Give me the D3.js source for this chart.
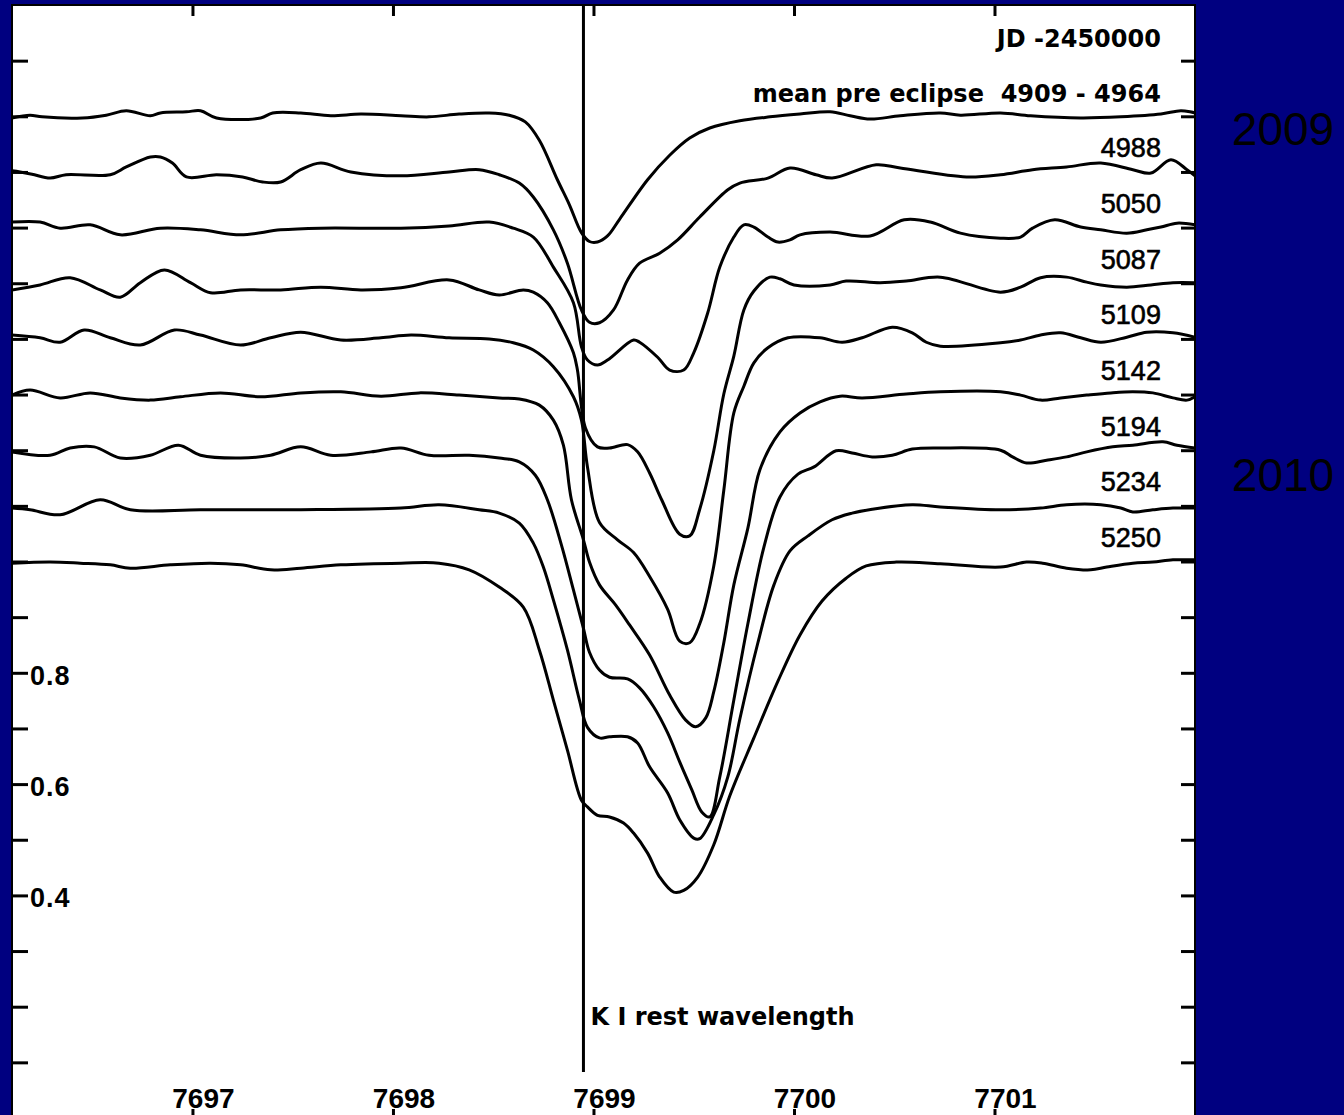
<!DOCTYPE html>
<html>
<head>
<meta charset="utf-8">
<script src="https://cdn.jsdelivr.net/npm/d3@7"></script>
<style>
  body { margin: 0; background: #000080; }
  svg { display: block; }
</style>
</head>
<body>
<script>
const width = 1344;
const height = 1115;

// wavelength axis (Angstrom) and flux axis ticks
const wavelengthTicks = [7697, 7698, 7699, 7700, 7701];
const fluxTicks = [0.1, 0.2, 0.3, 0.4, 0.5, 0.6, 0.7, 0.8, 0.9, 1.0, 1.1, 1.2, 1.3, 1.4, 1.5, 1.6, 1.7, 1.8, 1.9];
const fluxLabels = [0.4, 0.6, 0.8];
const restWavelength = 7698.95;   // K I line

// spectra, top to bottom: label, vertical offset, [wavelength, normalised flux]
const seriesLabels = ["mean pre eclipse  4909 - 4964", "4988", "5050", "5087", "5109", "5142", "5194", "5234", "5250"];
const offsets = [0.8, 0.7, 0.6, 0.5, 0.4, 0.3, 0.2, 0.1, 0.0];

const sMean = [[7696.10,0.997],[7696.19,1.002],[7696.25,0.999],[7696.45,0.997],[7696.57,1.002],[7696.67,1.010],[7696.79,1.001],[7696.84,1.006],[7696.97,1.008],[7697.04,1.010],[7697.12,0.997],[7697.34,0.997],[7697.40,1.006],[7697.54,1.006],[7697.69,1.001],[7697.84,1.004],[7698.04,1.001],[7698.18,0.999],[7698.33,1.004],[7698.48,1.006],[7698.58,1.002],[7698.66,0.990],[7698.73,0.957],[7698.82,0.886],[7698.88,0.841],[7698.94,0.791],[7698.98,0.775],[7699.02,0.774],[7699.07,0.785],[7699.13,0.815],[7699.27,0.886],[7699.38,0.930],[7699.48,0.961],[7699.58,0.979],[7699.73,0.992],[7699.88,0.999],[7700.03,1.004],[7700.18,1.008],[7700.28,1.001],[7700.38,0.995],[7700.53,1.001],[7700.73,1.006],[7700.83,1.002],[7701.03,1.006],[7701.18,1.001],[7701.43,0.997],[7701.63,0.999],[7701.83,1.004],[7701.93,1.010],[7702.00,1.006]];

const s4988 = [[7696.10,1.002],[7696.14,1.000],[7696.20,0.996],[7696.29,0.989],[7696.37,0.995],[7696.59,0.995],[7696.67,1.009],[7696.79,1.027],[7696.84,1.027],[7696.90,1.016],[7696.97,0.991],[7697.12,0.995],[7697.25,0.991],[7697.35,0.982],[7697.44,0.982],[7697.54,1.004],[7697.64,1.016],[7697.79,1.000],[7698.04,0.993],[7698.28,1.000],[7698.43,1.004],[7698.53,0.995],[7698.63,0.980],[7698.70,0.955],[7698.80,0.896],[7698.87,0.836],[7698.94,0.752],[7698.98,0.730],[7699.03,0.729],[7699.10,0.752],[7699.17,0.806],[7699.23,0.836],[7699.33,0.854],[7699.42,0.878],[7699.53,0.919],[7699.67,0.968],[7699.73,0.980],[7699.87,0.989],[7699.98,1.007],[7700.11,0.995],[7700.19,0.989],[7700.41,1.013],[7700.53,1.007],[7700.86,0.991],[7701.03,0.995],[7701.19,1.004],[7701.36,1.009],[7701.53,1.016],[7701.69,1.004],[7701.78,0.998],[7701.88,1.022],[7701.96,1.004],[7702.00,0.993]];

const s5050 = [[7696.10,1.010],[7696.24,1.010],[7696.34,0.999],[7696.49,1.005],[7696.64,0.987],[7696.84,0.999],[7697.04,0.996],[7697.24,0.987],[7697.44,0.996],[7697.64,0.999],[7698.04,0.999],[7698.28,1.003],[7698.48,1.010],[7698.60,0.999],[7698.70,0.983],[7698.80,0.929],[7698.90,0.865],[7698.94,0.786],[7698.97,0.762],[7699.02,0.753],[7699.07,0.762],[7699.20,0.798],[7699.23,0.794],[7699.32,0.767],[7699.38,0.744],[7699.45,0.744],[7699.50,0.775],[7699.57,0.847],[7699.63,0.929],[7699.70,0.983],[7699.75,1.005],[7699.80,1.001],[7699.87,0.983],[7699.92,0.974],[7699.98,0.978],[7700.03,0.987],[7700.18,0.992],[7700.38,0.985],[7700.55,1.014],[7700.68,1.010],[7700.83,0.990],[7701.03,0.981],[7701.13,0.983],[7701.19,0.999],[7701.30,1.014],[7701.43,1.001],[7701.53,0.996],[7701.66,0.990],[7701.76,0.996],[7701.83,1.001],[7701.91,1.008],[7702.00,1.005]];

const s5087 = [[7696.10,0.988],[7696.24,0.997],[7696.39,1.010],[7696.54,0.988],[7696.64,0.975],[7696.74,1.001],[7696.86,1.024],[7696.99,1.001],[7697.09,0.983],[7697.24,0.988],[7697.44,0.988],[7697.64,0.993],[7697.84,0.988],[7698.04,0.992],[7698.28,1.006],[7698.43,0.988],[7698.53,0.979],[7698.65,0.988],[7698.70,0.984],[7698.77,0.965],[7698.83,0.929],[7698.90,0.875],[7698.92,0.844],[7698.96,0.740],[7699.02,0.706],[7699.08,0.704],[7699.17,0.710],[7699.22,0.697],[7699.28,0.659],[7699.34,0.611],[7699.43,0.549],[7699.48,0.546],[7699.53,0.594],[7699.60,0.699],[7699.65,0.801],[7699.70,0.869],[7699.75,0.952],[7699.80,0.986],[7699.88,1.011],[7699.93,1.008],[7700.00,0.997],[7700.18,0.997],[7700.26,1.004],[7700.43,1.001],[7700.56,1.004],[7700.73,1.011],[7701.03,0.984],[7701.13,0.993],[7701.23,1.010],[7701.36,1.011],[7701.46,1.002],[7701.53,0.997],[7701.66,0.993],[7701.78,0.997],[7701.89,1.001],[7702.00,1.001]];

const s5109 = [[7696.10,1.007],[7696.24,1.002],[7696.34,0.994],[7696.46,1.016],[7696.59,1.002],[7696.74,0.989],[7696.91,1.016],[7697.04,1.007],[7697.24,0.989],[7697.39,1.002],[7697.54,1.012],[7697.74,0.998],[7697.94,1.002],[7698.09,1.007],[7698.28,1.002],[7698.48,1.000],[7698.60,0.993],[7698.70,0.980],[7698.80,0.950],[7698.90,0.896],[7698.94,0.854],[7698.97,0.770],[7699.03,0.670],[7699.12,0.639],[7699.20,0.616],[7699.28,0.573],[7699.37,0.514],[7699.43,0.457],[7699.48,0.454],[7699.53,0.488],[7699.60,0.592],[7699.65,0.728],[7699.70,0.867],[7699.75,0.915],[7699.80,0.957],[7699.87,0.984],[7699.97,1.002],[7700.13,1.002],[7700.24,0.994],[7700.34,1.002],[7700.49,1.021],[7700.59,1.011],[7700.66,0.994],[7700.73,0.987],[7701.03,0.993],[7701.13,0.998],[7701.23,1.007],[7701.33,1.011],[7701.43,1.002],[7701.53,0.994],[7701.66,1.003],[7701.76,1.012],[7701.89,1.011],[7702.00,1.003]];

const s5142 = [[7696.10,0.999],[7696.19,1.008],[7696.34,0.994],[7696.49,1.003],[7696.64,0.994],[7696.79,0.990],[7696.94,0.996],[7697.14,1.003],[7697.34,0.996],[7697.54,1.003],[7697.74,1.005],[7697.94,0.997],[7698.13,1.003],[7698.33,0.999],[7698.53,0.994],[7698.63,0.992],[7698.73,0.981],[7698.80,0.954],[7698.85,0.909],[7698.89,0.811],[7698.95,0.739],[7698.98,0.699],[7699.03,0.658],[7699.11,0.622],[7699.18,0.586],[7699.28,0.532],[7699.38,0.460],[7699.46,0.415],[7699.51,0.403],[7699.56,0.419],[7699.60,0.466],[7699.65,0.554],[7699.70,0.658],[7699.77,0.760],[7699.83,0.865],[7699.93,0.933],[7700.03,0.967],[7700.13,0.987],[7700.23,0.997],[7700.34,0.994],[7700.56,1.001],[7700.73,1.005],[7701.03,1.005],[7701.13,0.999],[7701.23,0.990],[7701.33,0.994],[7701.46,0.999],[7701.58,1.003],[7701.69,1.005],[7701.79,1.003],[7701.89,0.994],[7701.96,0.990],[7702.00,0.996]];

const s5194 = [[7696.10,0.997],[7696.29,0.991],[7696.39,1.004],[7696.51,1.006],[7696.64,0.986],[7696.79,0.991],[7696.93,1.009],[7697.04,0.991],[7697.24,0.986],[7697.39,0.991],[7697.54,1.006],[7697.69,0.991],[7697.89,0.997],[7698.04,1.004],[7698.18,0.991],[7698.38,0.991],[7698.53,0.986],[7698.63,0.979],[7698.71,0.955],[7698.77,0.911],[7698.84,0.830],[7698.90,0.749],[7698.95,0.680],[7698.98,0.637],[7699.03,0.605],[7699.08,0.592],[7699.17,0.589],[7699.23,0.573],[7699.30,0.539],[7699.37,0.492],[7699.43,0.440],[7699.49,0.390],[7699.54,0.350],[7699.58,0.341],[7699.63,0.413],[7699.70,0.551],[7699.77,0.688],[7699.85,0.826],[7699.93,0.916],[7700.02,0.957],[7700.10,0.970],[7700.21,0.999],[7700.29,0.995],[7700.39,0.988],[7700.49,0.991],[7700.59,1.002],[7700.73,1.004],[7701.03,1.000],[7701.09,0.988],[7701.16,0.977],[7701.26,0.982],[7701.36,0.988],[7701.46,0.997],[7701.59,1.006],[7701.69,1.009],[7701.84,1.015],[7701.91,1.009],[7702.00,1.004]];

const s5234 = [[7696.10,0.996],[7696.19,0.993],[7696.34,0.984],[7696.54,1.011],[7696.69,0.993],[7697.04,0.993],[7697.54,0.993],[7698.04,0.996],[7698.23,1.002],[7698.43,0.993],[7698.53,0.987],[7698.63,0.969],[7698.70,0.933],[7698.75,0.890],[7698.80,0.831],[7698.87,0.741],[7698.93,0.651],[7698.97,0.602],[7699.03,0.583],[7699.08,0.585],[7699.17,0.585],[7699.22,0.574],[7699.28,0.531],[7699.37,0.484],[7699.43,0.436],[7699.50,0.403],[7699.53,0.402],[7699.60,0.445],[7699.67,0.513],[7699.73,0.617],[7699.82,0.754],[7699.90,0.858],[7699.98,0.919],[7700.07,0.946],[7700.19,0.975],[7700.29,0.987],[7700.39,0.994],[7700.59,1.002],[7700.73,0.998],[7701.03,0.993],[7701.23,0.996],[7701.36,1.002],[7701.53,1.002],[7701.63,0.996],[7701.69,0.989],[7701.79,0.993],[7701.89,0.996],[7702.00,0.996]];

const s5250 = [[7696.10,0.997],[7696.29,0.999],[7696.44,0.997],[7696.59,0.994],[7696.69,0.988],[7696.89,0.994],[7697.09,0.997],[7697.24,0.994],[7697.39,0.985],[7697.54,0.988],[7697.74,0.994],[7698.04,0.997],[7698.23,0.997],[7698.38,0.985],[7698.53,0.954],[7698.65,0.918],[7698.73,0.841],[7698.80,0.751],[7698.87,0.661],[7698.94,0.571],[7698.97,0.559],[7699.02,0.544],[7699.08,0.541],[7699.15,0.530],[7699.20,0.512],[7699.27,0.476],[7699.33,0.433],[7699.40,0.406],[7699.45,0.409],[7699.52,0.433],[7699.60,0.491],[7699.68,0.579],[7699.80,0.683],[7699.92,0.785],[7700.03,0.868],[7700.14,0.929],[7700.26,0.970],[7700.36,0.992],[7700.51,0.999],[7700.73,0.996],[7701.03,0.990],[7701.16,0.999],[7701.24,0.997],[7701.36,0.988],[7701.48,0.985],[7701.56,0.990],[7701.69,0.997],[7701.79,0.999],[7701.89,1.003],[7702.00,1.003]];

const spectra = [sMean, s4988, s5050, s5087, s5109, s5142, s5194, s5234, s5250];

const plotLeft = 12, plotRight = 1195, plotTop = 5, plotBottom = 1118;

const x = d3.scaleLinear().domain([7696.1, 7702.0]).range([plotLeft, plotRight]);
const y = d3.scaleLinear().domain([0, 2.0]).range([plotBottom, plotTop]);

const svg = d3.select("body").append("svg")
  .attr("width", width)
  .attr("height", height);

svg.append("rect").attr("width", width).attr("height", height).attr("fill", "#000080");
svg.append("rect")
  .attr("x", plotLeft).attr("y", plotTop)
  .attr("width", plotRight - plotLeft).attr("height", height)
  .attr("fill", "#ffffff");

svg.append("clipPath").attr("id", "plot")
  .append("rect").attr("x", plotLeft).attr("y", plotTop).attr("width", plotRight - plotLeft).attr("height", plotBottom - plotTop);

// axes: ticks point inward on all four sides
function styleAxis(g) {
  g.select(".domain").remove();
  g.selectAll(".tick line").attr("stroke", "#000").attr("stroke-width", 3);
  g.selectAll(".tick text").remove();
}

svg.append("g").attr("transform", `translate(0,${plotTop})`)
  .call(d3.axisBottom(x).tickValues(wavelengthTicks).tickSize(11).tickSizeOuter(0))
  .call(styleAxis);
svg.append("g").attr("transform", `translate(0,${plotBottom})`)
  .call(d3.axisTop(x).tickValues(wavelengthTicks).tickSize(9).tickSizeOuter(0))
  .call(styleAxis);
svg.append("g").attr("transform", `translate(${plotLeft},0)`)
  .call(d3.axisRight(y).tickValues(fluxTicks).tickSize(16).tickSizeOuter(0))
  .call(styleAxis);
svg.append("g").attr("transform", `translate(${plotRight},0)`)
  .call(d3.axisLeft(y).tickValues(fluxTicks).tickSize(14).tickSizeOuter(0))
  .call(styleAxis);

// frame
svg.append("path")
  .attr("d", `M${plotLeft},${height}V${plotTop}H${plotRight}V${height}`)
  .attr("fill", "none").attr("stroke", "#000").attr("stroke-width", 2);

// tick labels
svg.append("g").selectAll("text")
  .data(wavelengthTicks)
  .join("text")
  .attr("x", d => x(d) + 11)
  .attr("y", 1108)
  .attr("text-anchor", "middle")
  .style("font-family", "'Liberation Sans Narrow', 'Arial Narrow', sans-serif")
  .style("font-weight", "bold")
  .style("font-size", "28px")
  .text(d => d);

svg.append("g").selectAll("text")
  .data(fluxLabels)
  .join("text")
  .attr("x", 30)
  .attr("y", d => y(d) + 12)
  .style("font-family", "'Liberation Sans Narrow', 'Arial Narrow', sans-serif")
  .style("font-weight", "bold")
  .style("font-size", "27px")
  .style("letter-spacing", "1px")
  .text(d => d.toFixed(1));

// rest wavelength marker
svg.append("line")
  .attr("x1", x(restWavelength)).attr("x2", x(restWavelength))
  .attr("y1", plotTop).attr("y2", 1072)
  .attr("stroke", "#000").attr("stroke-width", 3);

svg.append("text")
  .attr("x", x(restWavelength) + 7)
  .attr("y", 1025)
  .style("font-family", "'DejaVu Sans', sans-serif")
  .style("font-weight", "bold")
  .style("font-size", "24px")
  .text("K I rest wavelength");

// spectra
const line = d3.line()
  .x(d => x(d[0]))
  .y(d => y(d[1]))
  .curve(d3.curveCatmullRom.alpha(0.5));

svg.append("g").attr("clip-path", "url(#plot)")
  .selectAll("path")
  .data(spectra.map((s, i) => s.map(p => [p[0], p[1] + offsets[i]])))
  .join("path")
  .attr("d", line)
  .attr("fill", "none")
  .attr("stroke", "#000")
  .attr("stroke-width", 3)
  .attr("stroke-linejoin", "round");

// labels of the spectra (JD - 2450000)
const labelX = x(7701.83);
svg.append("text")
  .attr("x", labelX).attr("y", y(1.925))
  .attr("text-anchor", "end")
  .style("font-family", "'DejaVu Sans', sans-serif")
  .style("font-weight", "bold")
  .style("font-size", "24px")
  .text("JD -2450000");

svg.append("g").selectAll("text")
  .data(seriesLabels)
  .join("text")
  .attr("x", labelX)
  .attr("y", (d, i) => y(offsets[i] + 1.026))
  .attr("text-anchor", "end")
  .style("white-space", "pre")
  .style("font-family", (d, i) => i === 0 ? "'DejaVu Sans', sans-serif" : "'Liberation Sans', Arial, sans-serif")
  .style("font-weight", (d, i) => i === 0 ? "bold" : "normal")
  .style("font-size", (d, i) => i === 0 ? "24px" : "27px")
  .attr("stroke", (d, i) => i === 0 ? "none" : "#000")
  .attr("stroke-width", 0.6)
  .text(d => d);

// season labels outside the frame
const seasons = [{ label: "2009", flux: 1.749 }, { label: "2010", flux: 1.127 }];
svg.append("g").selectAll("text")
  .data(seasons)
  .join("text")
  .attr("x", 1283)
  .attr("y", d => y(d.flux))
  .attr("text-anchor", "middle")
  .attr("fill", "#000")
  .style("font-family", "'Liberation Sans', Arial, sans-serif")
  .style("font-size", "46px")
  .text(d => d.label);
</script>
</body>
</html>
